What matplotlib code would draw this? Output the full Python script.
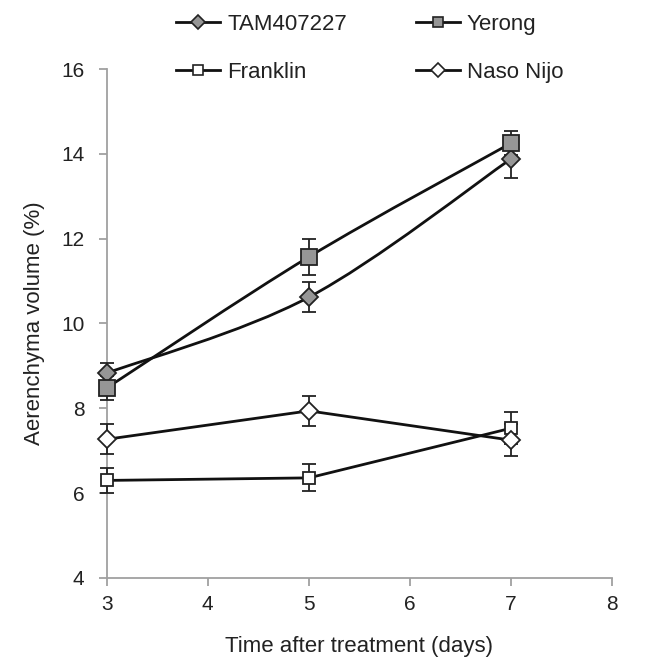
import matplotlib
matplotlib.use("Agg")
import matplotlib.pyplot as plt
import numpy as np
from matplotlib.path import Path
from matplotlib.patches import PathPatch

plt.rcParams['font.family'] = ['Liberation Sans', 'DejaVu Sans']

days = [3, 5, 7]
tam = [8.83, 10.62, 13.88]
tam_err = [0.25, 0.36, 0.45]
yerong = [8.48, 11.57, 14.25]
yerong_err = [0.28, 0.42, 0.28]
franklin = [6.3, 6.36, 7.53]
franklin_err = [0.3, 0.32, 0.38]
naso = [7.27, 7.94, 7.25]
naso_err = [0.35, 0.35, 0.38]


def smooth_path(x, y):
    # Excel-like smoothed line as cubic bezier segments
    pts = np.column_stack([x, y]).astype(float)
    ext = np.vstack([pts[0], pts, pts[-1]])
    verts = [pts[0]]
    codes = [Path.MOVETO]
    for i in range(len(pts) - 1):
        p0, p1, p2, p3 = ext[i], ext[i + 1], ext[i + 2], ext[i + 3]
        c1 = p1 + (p2 - p0) / 6
        c2 = p2 - (p3 - p1) / 6
        verts += [c1, c2, p2]
        codes += [Path.CURVE4] * 3
    return Path(verts, codes)


fig = plt.figure(figsize=(6.51, 6.61), dpi=100)
ax = fig.add_axes([0.164, 0.1256, 0.776, 0.77])

# name, values, errors, marker, face colour, marker size, smoothed line
series = [
    ("TAM407227", tam, tam_err, "D", "#969696", 9, True),
    ("Franklin", franklin, franklin_err, "s", "white", 9, False),
    ("Yerong", yerong, yerong_err, "s", "#969696", 12, True),
    ("Naso Nijo", naso, naso_err, "D", "white", 9, False),
]

handles = []
for name, vals, err, mk, fc, ms, smooth in series:
    if smooth:
        ax.add_patch(PathPatch(smooth_path(days, vals), fill=False,
                               edgecolor="#111111", lw=2, zorder=2))
    else:
        ax.plot(days, vals, color="#111111", lw=2, zorder=2)
    ax.errorbar(days, vals, yerr=err, fmt="none", ecolor="#222222",
                elinewidth=1.3, capsize=5, capthick=1.3, zorder=3,
                clip_on=False)
    ax.plot(days, vals, linestyle="none", marker=mk, markersize=ms,
            markerfacecolor=fc, markeredgecolor="#222222",
            markeredgewidth=1.3, zorder=4, clip_on=False)
    lh, = ax.plot([], [], color="#111111", lw=2, marker=mk,
                  markersize=7 if mk == "D" else 7.5, markerfacecolor=fc,
                  markeredgecolor="#222222", markeredgewidth=1.2,
                  label=name)
    handles.append(lh)

ax.set_xlim(3, 8)
ax.set_ylim(4, 16)
ax.set_xticks([3, 4, 5, 6, 7, 8])
ax.set_yticks([4, 6, 8, 10, 12, 14, 16])
for s in ["top", "right"]:
    ax.spines[s].set_visible(False)
for s in ["left", "bottom"]:
    ax.spines[s].set_color("#a0a0a0")
    ax.spines[s].set_linewidth(1.3)
ax.tick_params(axis="both", colors="#a0a0a0", labelcolor="#222222",
               labelsize=15, length=6, width=1.3, direction="out")
ax.tick_params(axis="y", pad=10)
ax.tick_params(axis="x", pad=6)
ax.set_xlabel("Time after treatment (days)", fontsize=16, color="#222222",
              labelpad=16)
ax.set_ylabel("Aerenchyma volume (%)", fontsize=16, color="#222222",
              labelpad=12)

leg = fig.legend(handles=handles, loc="upper left", ncol=2,
                 bbox_to_anchor=(176 / 651, 1 - 14 / 661), frameon=False,
                 fontsize=16, handlelength=2.0, handletextpad=0.3,
                 columnspacing=3.1, labelspacing=1.2, borderpad=0,
                 borderaxespad=0)
for t in leg.get_texts():
    t.set_color("#222222")

fig.savefig("out.png", dpi=100)
